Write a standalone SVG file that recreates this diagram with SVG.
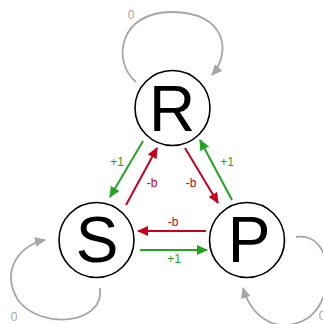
<svg xmlns="http://www.w3.org/2000/svg" width="323" height="324" viewBox="0 0 323 324">
  <style>
    .node circle { fill: #ffffff; stroke: #000000; stroke-width: 1.6; }
    .node text { font-family: "Liberation Sans", Arial, sans-serif; font-size: 64px; fill: #000000; text-anchor: middle; }
    .edge { fill: none; stroke-width: 2; }
    .win { stroke: #22a622; }
    .lose { stroke: #c8001e; }
    .tie { stroke: #a6a6a6; stroke-width: 1.8; }
    .lbl { font-family: "Liberation Sans", Arial, sans-serif; font-size: 12px; text-anchor: middle; }
    .lbl-win { fill: #22a622; }
    .lbl-lose { fill: #c8001e; }
    .lbl-tie { fill: #a6a6a6; }
  </style>
  <defs>
    <marker id="head-win" markerUnits="userSpaceOnUse" markerWidth="11" markerHeight="10" refX="10" refY="5" orient="auto">
      <path d="M0,0 L11,5 L0,10 z" fill="#22a622"/>
    </marker>
    <marker id="head-lose" markerUnits="userSpaceOnUse" markerWidth="11" markerHeight="10" refX="10" refY="5" orient="auto">
      <path d="M0,0 L11,5 L0,10 z" fill="#c8001e"/>
    </marker>
    <marker id="head-tie" markerUnits="userSpaceOnUse" markerWidth="11" markerHeight="10" refX="10" refY="5" orient="auto">
      <path d="M0,0 L11,5 L0,10 z" fill="#a6a6a6"/>
    </marker>
  </defs>

  <!-- connectors -->
  <g id="edges">
    <!-- self loops -->
    <path class="edge tie" d="M136,82 C112,62 118,12 172,12 C226,12 232,52 212,75" marker-end="url(#head-tie)"/>
    <path class="edge tie" d="M100,288 C105,325 40,330 18,300 C0,270 20,245 45,240" marker-end="url(#head-tie)"/>
    <path class="edge tie" d="M296,237 C333,231 338,296 308,318 C278,336 252,318 243,288" marker-end="url(#head-tie)"/>

    <!-- R <-> S -->
    <line class="edge win" x1="143" y1="141" x2="110" y2="197" marker-end="url(#head-win)"/>
    <line class="edge lose" x1="126" y1="205" x2="157" y2="148" marker-end="url(#head-lose)"/>
    <!-- R <-> P -->
    <line class="edge lose" x1="185" y1="148" x2="218" y2="203" marker-end="url(#head-lose)"/>
    <line class="edge win" x1="232" y1="200" x2="200" y2="140" marker-end="url(#head-win)"/>
    <!-- S <-> P -->
    <line class="edge lose" x1="206" y1="231" x2="138" y2="231" marker-end="url(#head-lose)"/>
    <line class="edge win" x1="140" y1="250" x2="207" y2="250" marker-end="url(#head-win)"/>

    <!-- payoff labels -->
    <text class="lbl lbl-tie" x="131" y="19">0</text>
    <text class="lbl lbl-tie" x="14" y="321">0</text>
    <text class="lbl lbl-tie" x="322" y="320">0</text>
    <text class="lbl lbl-win" x="117" y="166">+1</text>
    <text class="lbl lbl-lose" x="152" y="187">-b</text>
    <text class="lbl lbl-lose" x="191" y="187">-b</text>
    <text class="lbl lbl-win" x="227" y="166">+1</text>
    <text class="lbl lbl-lose" x="173" y="226">-b</text>
    <text class="lbl lbl-win" x="174" y="263">+1</text>
  </g>

  <!-- nodes -->
  <g id="node-R" class="node">
    <circle cx="172.5" cy="108" r="37.5"/>
    <text x="172" y="131">R</text>
  </g>
  <g id="node-S" class="node">
    <circle cx="96.5" cy="240" r="37.5"/>
    <text x="97" y="262">S</text>
  </g>
  <g id="node-P" class="node">
    <circle cx="247" cy="240" r="37.5"/>
    <text x="249" y="262">P</text>
  </g>
</svg>
